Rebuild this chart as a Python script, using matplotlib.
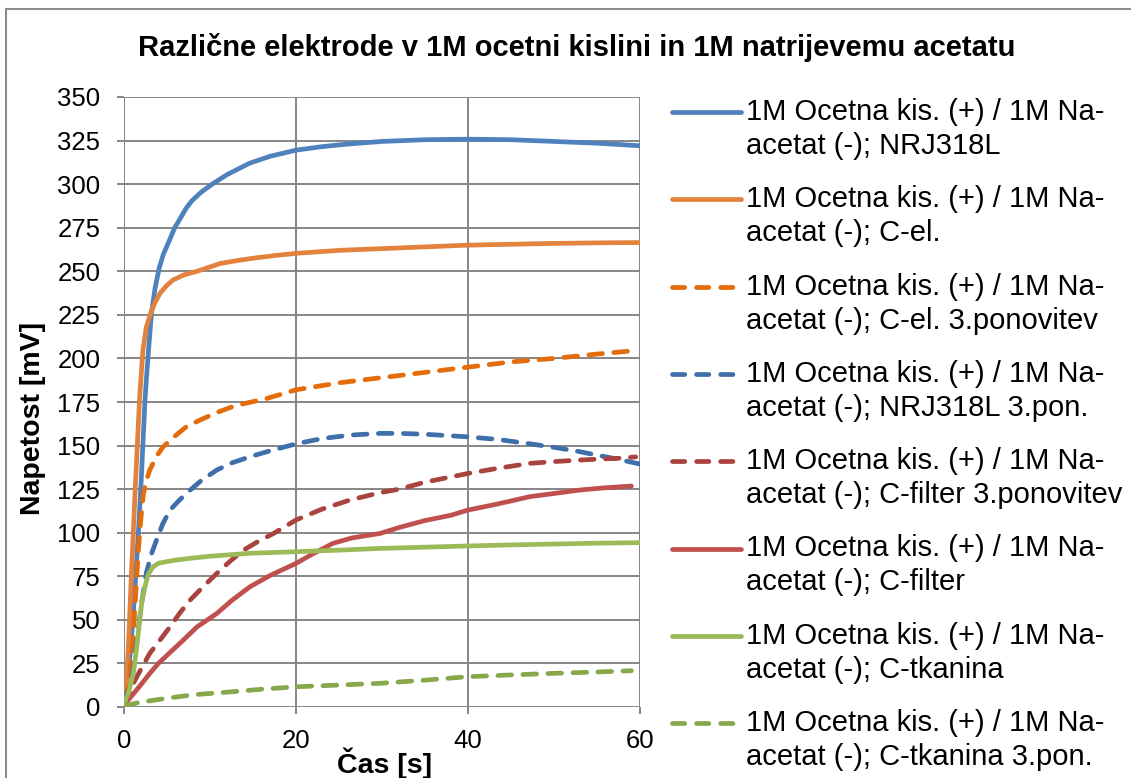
import matplotlib
matplotlib.use("Agg")
import matplotlib.pyplot as plt
from matplotlib.lines import Line2D
from matplotlib.patches import Rectangle

plt.rcParams['font.family'] = ['Liberation Sans', 'DejaVu Sans']

W, H = 1131, 778

# --- measured series: time [s] and voltage [mV] ---
t_nrj = [0, 0.3, 0.7, 1.0, 1.3, 1.67, 2.0, 2.44, 2.6, 2.9, 3.2, 3.6, 4.1, 4.6, 5.3, 5.9,
         6.5, 7.2, 7.9, 9.0, 10.4, 12.0, 14.6, 17.0, 20, 23, 26, 30, 35, 40, 45, 50, 55, 60]
v_nrj = [5, 12, 30, 48, 70, 100, 130, 176, 188, 208, 226, 240, 252, 260, 268, 275,
         280, 286, 290.5, 295.5, 300.5, 305.5, 312, 316, 319.5, 321.5, 323, 324.5, 325.5,
         325.8, 325.5, 324.5, 323.5, 322]

t_cel = [0, 0.3, 0.6, 0.85, 1.08, 1.3, 1.5, 1.8, 2.2, 2.6, 3.1, 3.6, 4.2, 5.0, 5.7, 7.0,
         8.5, 10, 11.2, 13, 15, 17.5, 20, 25, 30, 35, 40, 45, 50, 55, 60]
v_cel = [5, 14, 45, 75, 100, 125, 145, 176, 205, 218, 226, 232, 237.5, 242, 245, 248,
         250, 252.5, 254.5, 256, 257.5, 259, 260.3, 262, 263, 264, 265, 265.5, 266, 266.3,
         266.5]

t_cel3 = [0, 0.4, 0.7, 1.08, 1.4, 1.67, 2.0, 2.25, 2.6, 3.0, 3.8, 4.5, 5.35, 6.3, 7.3, 9,
          10.8, 13, 16.6, 20, 25, 30, 35, 40, 45, 50, 55, 59.4]
v_cel3 = [4, 10, 20, 42, 68, 90, 110, 122, 130, 136, 144, 149, 153, 157, 161, 165,
          169, 173, 177, 182, 186, 189, 192, 195, 198, 200, 202.5, 204.5]

t_nrj3 = [0, 0.4, 0.7, 1.0, 1.5, 2.0, 2.6, 3.2, 3.8, 4.5, 5.35, 6.5, 7.7, 9, 10.8, 12.5,
          14.65, 17, 20, 23, 26.3, 29.8, 32, 35, 40, 43.5, 47.2, 50, 53, 55, 56.9, 58.5, 60]
v_nrj3 = [4, 8, 12, 20, 38, 58, 77, 88, 96, 105, 113, 119, 124.5, 130, 136, 140,
          143.6, 147, 151, 154, 156, 157, 157, 156.5, 155, 153.5, 151, 149, 146.5, 144.5,
          142.7, 141, 139.4]

t_cfil3 = [0, 0.5, 1.08, 2.0, 3.0, 4.2, 5.35, 6.5, 7.7, 9.2, 10.8, 12.3, 13.9, 15.6, 17.4,
           20, 23, 26.3, 29.8, 32, 35, 40, 43.5, 47.2, 50, 53, 55, 57.5, 59.5]
v_cfil3 = [1, 6, 13.6, 22, 30.8, 38.5, 46, 54, 61.4, 69, 76.7, 83.5, 90, 95, 99.6,
           107.3, 113.5, 118.8, 123, 125, 129, 134, 137, 139.8, 140.8, 141.7, 142.2, 142.7,
           143.5]

t_cfil = [0, 0.3, 1.0, 2.0, 3.0, 4.0, 5.5, 6.9, 8.5, 10.8, 12.5, 14.65, 17, 20, 22, 24.3,
          26.5, 29.8, 32, 35, 38, 40, 43, 47.2, 50, 53, 56, 59]
v_cfil = [1, 3, 7, 13, 19.3, 25, 32, 38.4, 46, 53.7, 61, 69, 75.5, 82.4, 88, 93.9,
          97, 99.6, 103, 107, 110, 113, 116, 120.7, 122.5, 124.5, 125.8, 126.8]

t_ctk = [0, 0.5, 1.08, 1.5, 1.86, 2.1, 2.44, 2.8, 3.4, 4.0, 4.96, 6, 7.7, 10, 14.65, 20,
         25, 29.8, 35, 40, 45, 50, 55, 60]
v_ctk = [2, 8, 19, 35, 51.8, 61, 69, 76, 80.5, 82.5, 83.4, 84.3, 85.3, 86.5, 88.2, 89.1,
         90, 91, 91.7, 92.4, 93, 93.5, 94, 94.3]

t_ctk3 = [0, 2, 4.96, 8, 12.7, 16, 20, 25, 29.8, 35, 40, 45, 50, 55, 59]
v_ctk3 = [0.8, 2.8, 5, 7, 8.8, 10.2, 11.6, 12.6, 13.6, 15.4, 17.4, 18.4, 19.3, 20.1, 20.8]

labels = [
    "1M Ocetna kis. (+) / 1M Na-\nacetat (-); NRJ318L",
    "1M Ocetna kis. (+) / 1M Na-\nacetat (-); C-el.",
    "1M Ocetna kis. (+) / 1M Na-\nacetat (-); C-el. 3.ponovitev",
    "1M Ocetna kis. (+) / 1M Na-\nacetat (-); NRJ318L 3.pon.",
    "1M Ocetna kis. (+) / 1M Na-\nacetat (-); C-filter 3.ponovitev",
    "1M Ocetna kis. (+) / 1M Na-\nacetat (-); C-filter",
    "1M Ocetna kis. (+) / 1M Na-\nacetat (-); C-tkanina",
    "1M Ocetna kis. (+) / 1M Na-\nacetat (-); C-tkanina 3.pon.",
]
series = [(t_nrj, v_nrj), (t_cel, v_cel), (t_cel3, v_cel3), (t_nrj3, v_nrj3),
          (t_cfil3, v_cfil3), (t_cfil, v_cfil), (t_ctk, v_ctk), (t_ctk3, v_ctk3)]
colors = ["#4F81BD", "#E2823C", "#E46C0A", "#3F6FAA",
          "#A9433F", "#C0504D", "#9BBB59", "#86A84B"]
dashed = [False, False, True, True, True, False, False, True]

LW = 3.4
DASH = (2.9, 2.4)

fig = plt.figure(figsize=(W / 100, H / 100), dpi=100)

def fx(px):
    return px / W

def fy(py):
    return 1 - py / H

# outer chart frame
fig.patches.append(Rectangle((fx(6), fy(800)), fx(1140) - fx(6), fy(9) - fy(800),
                             transform=fig.transFigure, fill=False,
                             edgecolor="#8C8C8C", linewidth=1.5))

ax = fig.add_axes([fx(124), fy(707), fx(640) - fx(124), fy(97) - fy(707)])

for (t, v), c, d in zip(series, colors, dashed):
    if d:
        ax.plot(t, v, color=c, lw=LW, linestyle=(0, DASH), dash_capstyle="round",
                solid_capstyle="round")
    else:
        ax.plot(t, v, color=c, lw=LW, solid_capstyle="round", solid_joinstyle="round")

ax.set_xlim(0, 60)
ax.set_ylim(0, 350)
ax.set_xticks([0, 20, 40, 60])
ax.set_yticks(range(0, 351, 25))
ax.grid(True, color="#868686", linewidth=1.4)
ax.set_axisbelow(True)
for s in ax.spines.values():
    s.set_visible(False)
ax.tick_params(axis="both", direction="out", length=5, width=1.4, color="#868686",
               labelsize=18.5, labelcolor="black")
ax.tick_params(axis="y", pad=12)
ax.tick_params(axis="x", pad=11)

fig.text(fx(577), fy(47), "Različne elektrode v 1M ocetni kislini in 1M natrijevemu acetatu",
         ha="center", va="center", fontsize=21, fontweight="bold")
fig.text(fx(33), fy(418), "Napetost [mV]", rotation=90, ha="center", va="center",
         fontsize=20.5, fontweight="bold")
fig.text(fx(385), fy(763), "Čas [s]", ha="center", va="center",
         fontsize=20.5, fontweight="bold")

# legend drawn entry by entry, handle aligned with the first text line
y_first, step, line_gap = 112, 87.3, 34
for i, (lab, c, d) in enumerate(zip(labels, colors, dashed)):
    y = y_first + i * step
    if d:
        h = Line2D([fx(672), fx(733)], [fy(y), fy(y)], transform=fig.transFigure,
                   color=c, lw=LW, linestyle=(0, (2.6, 2.5)), dash_capstyle="round")
    else:
        h = Line2D([fx(672), fx(741)], [fy(y), fy(y)], transform=fig.transFigure,
                   color=c, lw=LW, solid_capstyle="round")
    fig.add_artist(h)
    l1, l2 = lab.split("\n")
    fig.text(fx(746), fy(y), l1, ha="left", va="center", fontsize=21)
    fig.text(fx(746), fy(y + line_gap), l2, ha="left", va="center", fontsize=21)

fig.savefig("out.png", dpi=100)
